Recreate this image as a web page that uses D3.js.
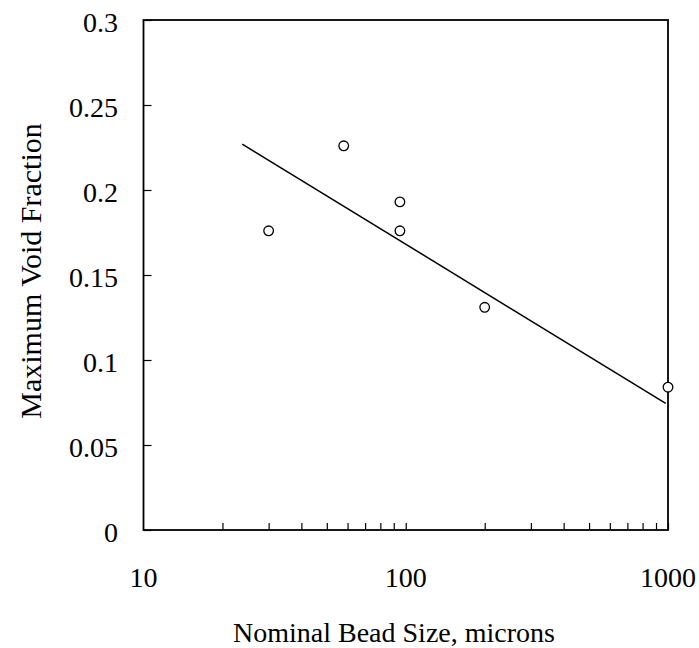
<!DOCTYPE html>
<html>
<head>
<meta charset="utf-8">
<script src="https://cdn.jsdelivr.net/npm/d3@7"></script>
<style>
  body { margin: 0; background: #fff; }
  svg text { font-family: "Liberation Serif", "Times New Roman", serif; fill: #000; }
</style>
</head>
<body>
<svg width="699" height="648"></svg>
<script>
// measured points
const beadSize = [30, 58, 95, 95, 200, 1000];
const voidFraction = [0.176, 0.226, 0.193, 0.176, 0.131, 0.084];

// trend line ends
const fitSize = [23.8, 980];
const fitVoid = [0.227, 0.0745];

const xTicks = [20, 30, 40, 50, 60, 70, 80, 90, 100, 200, 300, 400, 500, 600, 700, 800, 900, 1000];
const xLabels = [10, 100, 1000];
const yTicks = [0, 0.05, 0.1, 0.15, 0.2, 0.25, 0.3];

const svg = d3.select("svg");
const plotL = 143.5, plotR = 668, plotT = 20, plotB = 530;

const x = d3.scaleLog().domain([10, 1000]).range([plotL, plotR]);
const y = d3.scaleLinear().domain([0, 0.3]).range([plotB, plotT]);

// x axis, ticks pointing in
const xAxis = svg.append("g")
  .attr("transform", "translate(0," + plotB + ")")
  .call(d3.axisBottom(x).tickValues(xTicks).tickSize(-7).tickFormat(""));
xAxis.select(".domain").remove();
xAxis.selectAll(".tick line").attr("stroke", "#000").attr("stroke-width", 1.2);

svg.append("g").selectAll("text")
  .data(xLabels)
  .join("text")
  .attr("x", d => x(d))
  .attr("y", 587)
  .attr("text-anchor", "middle")
  .attr("font-size", 28)
  .text(d => d);

// y axis
const yAxis = svg.append("g")
  .attr("transform", "translate(" + plotL + ",0)")
  .call(d3.axisLeft(y).tickValues(yTicks).tickSize(-8).tickPadding(25.5).tickFormat(d3.format("")));
yAxis.select(".domain").remove();
yAxis.selectAll(".tick line").attr("stroke", "#000").attr("stroke-width", 1.2);
yAxis.selectAll(".tick text")
  .attr("font-size", 28)
  .attr("font-family", "Liberation Serif, Times New Roman, serif")
  .attr("dy", "0.42em");

// frame
svg.append("rect")
  .attr("x", plotL).attr("y", plotT)
  .attr("width", plotR - plotL).attr("height", plotB - plotT)
  .attr("fill", "none").attr("stroke", "#000").attr("stroke-width", 1.8);

// trend line
const line = d3.line().x(d => x(d[0])).y(d => y(d[1]));
svg.append("path")
  .datum(d3.zip(fitSize, fitVoid))
  .attr("fill", "none")
  .attr("stroke", "#000")
  .attr("stroke-width", 1.5)
  .attr("d", line);

// markers
svg.append("g").selectAll("circle")
  .data(d3.zip(beadSize, voidFraction))
  .join("circle")
  .attr("cx", d => x(d[0]))
  .attr("cy", d => y(d[1]))
  .attr("r", 4.8)
  .attr("fill", "#fff")
  .attr("stroke", "#000")
  .attr("stroke-width", 1.3);

// titles
svg.append("text")
  .attr("x", 394).attr("y", 642)
  .attr("text-anchor", "middle")
  .attr("font-size", 28)
  .text("Nominal Bead Size, microns");

svg.append("text")
  .attr("transform", "translate(41,271) rotate(-90)")
  .attr("text-anchor", "middle")
  .attr("font-size", 30)
  .text("Maximum Void Fraction");
</script>
</body>
</html>
